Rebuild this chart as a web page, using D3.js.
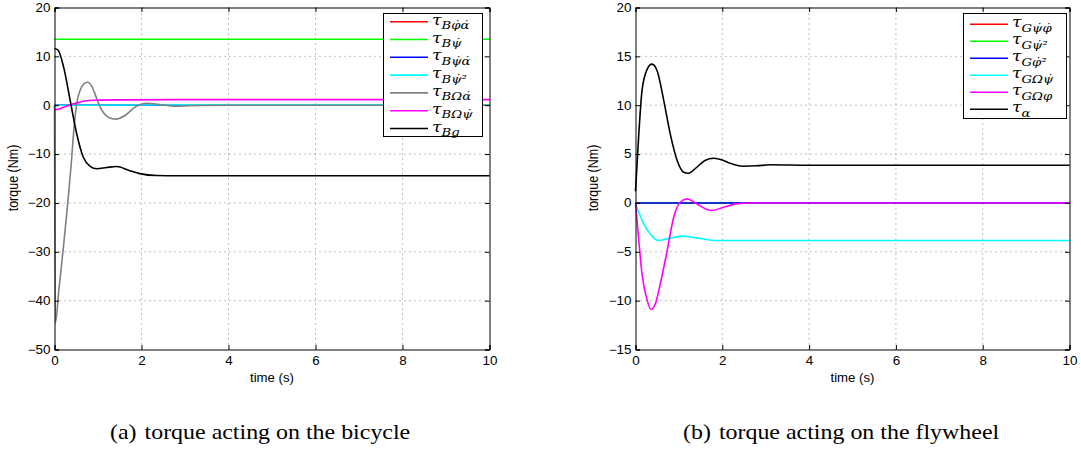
<!DOCTYPE html>
<html>
<head>
<meta charset="utf-8">
<script src="https://cdn.jsdelivr.net/npm/d3@7"></script>
<style>
  body { margin: 0; background: #fff; }
  svg { display: block; }
</style>
</head>
<body>
<svg id="fig" width="1081" height="450"></svg>
<script>
// ---------- shared tick values ----------
const timeTicks = [0, 2, 4, 6, 8, 10];
const bicycleTorqueTicks = [20, 10, 0, -10, -20, -30, -40, -50];
const flywheelTorqueTicks = [20, 15, 10, 5, 0, -5, -10, -15];

// ---------- (a) torque acting on the bicycle ----------
const bicycleLabels = ["B\u03C6\u0307\u03B1\u0307", "B\u03C8\u0307", "B\u03C8\u0307\u03B1\u0307", "B\u03C8\u0307\u00B2",
                       "B\u03A9\u03B1\u0307", "B\u03A9\u03C8\u0307", "Bg"];
const bicycleColors = ["#ff0000", "#00ff00", "#0000ff", "#00ffff", "#808080", "#ff00ff", "#000000"];

const bPhiAlphaT = [0, 10];
const bPhiAlphaV = [0, 0];
const bPsiT = [0, 10];
const bPsiV = [13.5, 13.5];
const bPsiAlphaT = [0, 10];
const bPsiAlphaV = [0, 0];
const bPsiSqT = [0, 2, 10];
const bPsiSqV = [0, 0.05, 0.1];
const bOmegaAlphaT = [0, 0.02, 0.1, 0.2, 0.3, 0.38, 0.46, 0.52, 0.6, 0.68, 0.76, 0.86, 0.96, 1.05, 1.24, 1.41, 1.62, 1.85, 2.12, 2.42, 2.8, 3.3, 4, 10];
const bOmegaAlphaV = [0, -44.6, -37.8, -29.5, -20.5, -12.5, -3.5, 0.8, 3.3, 4.4, 4.7, 3.8, 1.6, -0.4, -2.45, -2.85, -2.1, -0.4, 0.4, 0.15, -0.2, -0.05, 0, 0];
const bOmegaPsiT = [0, 0.08, 0.21, 0.44, 0.66, 0.9, 1.43, 2.84, 5, 10];
const bOmegaPsiV = [-0.87, -0.85, -0.4, 0.3, 0.82, 1.03, 1.1, 1.15, 1.15, 1.15];
const bGravityT = [0, 0.08, 0.21, 0.36, 0.51, 0.66, 0.82, 0.97, 1.2, 1.43, 1.73, 1.96, 2.35, 2.84, 4, 10];
const bGravityV = [11.6, 11.3, 7.8, 1.0, -5.85, -10.6, -12.5, -13.0, -12.75, -12.55, -13.4, -14.0, -14.4, -14.45, -14.45, -14.45];

// ---------- (b) torque acting on the flywheel ----------
const flywheelLabels = ["G\u03C8\u0307\u03C6\u0307", "G\u03C8\u0307\u00B2", "G\u03C6\u0307\u00B2", "G\u03A9\u03C8\u0307", "G\u03A9\u03C6", "\u03B1"];
const flywheelColors = ["#ff0000", "#00ff00", "#0000ff", "#00ffff", "#ff00ff", "#000000"];

const gPsiPhiT = [0, 10];
const gPsiPhiV = [0, 0];
const gPsiSqT = [0, 10];
const gPsiSqV = [0, 0];
const gPhiSqT = [0, 10];
const gPhiSqV = [0, 0];
const gOmegaPsiT = [0, 0.076, 0.19, 0.34, 0.53, 0.73, 1.07, 1.41, 1.87, 2.5, 4, 10];
const gOmegaPsiV = [0, -0.95, -2.14, -3.17, -3.85, -3.68, -3.4, -3.58, -3.85, -3.85, -3.85, -3.85];
const gOmegaPhiT = [0, 0.076, 0.15, 0.27, 0.36, 0.46, 0.57, 0.73, 0.88, 1.03, 1.19, 1.38, 1.61, 1.76, 2.03, 2.33, 2.6, 4, 10];
const gOmegaPhiV = [0, -3.85, -7.26, -10.0, -10.9, -10.3, -8.3, -4.87, -1.46, 0.07, 0.42, 0, -0.6, -0.78, -0.44, -0.1, 0, 0, 0];
const gAlphaT = [0, 0.076, 0.15, 0.27, 0.38, 0.5, 0.65, 0.8, 0.96, 1.11, 1.22, 1.41, 1.6, 1.8, 2.0, 2.18, 2.48, 2.79, 3.1, 4, 6, 10];
const gAlphaV = [1.2, 7.07, 11.5, 13.7, 14.2, 13.5, 10.5, 7.07, 4.34, 3.14, 3.04, 3.65, 4.35, 4.57, 4.4, 4.06, 3.76, 3.8, 3.9, 3.85, 3.85, 3.85];

// ---------- drawing ----------
const svg = d3.select("#fig");
const SANS = "Liberation Sans, Arimo, Arial, Helvetica, sans-serif";
const SERIF = "Times New Roman, Liberation Serif, Tinos, Times, serif";
const MATH = "DejaVu Serif, serif";
const TICK_STRETCH = 1.12;   // sans glyphs are set slightly wide

function drawPanel(cfg) {
  const g = svg.append("g");
  const x = d3.scaleLinear().domain([0, 10]).range([cfg.left, cfg.right]);
  const y = d3.scaleLinear().domain(cfg.yDomain).range([349.5, 7.5]);
  const [yb, yt] = y.range();

  // dotted grid
  const grid = g.append("g").attr("stroke", "#808080").attr("stroke-width", 1).attr("stroke-dasharray", "1,4");
  grid.selectAll(".gx").data(timeTicks.slice(1, -1)).join("line")
    .attr("x1", d => x(d)).attr("x2", d => x(d)).attr("y1", yb).attr("y2", yt);
  grid.selectAll(".gy").data(cfg.yTicks.slice(1, -1)).join("line")
    .attr("y1", d => y(d)).attr("y2", d => y(d)).attr("x1", cfg.left).attr("x2", cfg.right);

  // series
  const line = d3.line().x(d => x(d[0])).y(d => y(d[1])).curve(d3.curveMonotoneX);
  cfg.series.forEach((s, i) => {
    g.append("path").datum(d3.zip(s[0], s[1]))
      .attr("d", line).attr("fill", "none")
      .attr("stroke", cfg.colors[i]).attr("stroke-width", 1.6)
      .attr("stroke-linejoin", "round");
  });

  // axes with inward ticks on all four sides
  const tick = 4.5;
  const axB = g.append("g").attr("transform", `translate(0,${yb})`)
    .call(d3.axisBottom(x).tickValues(timeTicks).tickSize(-tick).tickPadding(7).tickFormat(d3.format("d")));
  const axT = g.append("g").attr("transform", `translate(0,${yt})`)
    .call(d3.axisTop(x).tickValues(timeTicks).tickSize(-tick).tickFormat(""));
  const axL = g.append("g").attr("transform", `translate(${cfg.left},0)`)
    .call(d3.axisLeft(y).tickValues(cfg.yTicks).tickSize(-tick).tickPadding(4).tickFormat(d3.format("d")));
  const axR = g.append("g").attr("transform", `translate(${cfg.right},0)`)
    .call(d3.axisRight(y).tickValues(cfg.yTicks).tickSize(-tick).tickFormat(""));
  [axB, axT, axL, axR].forEach(a => {
    a.select(".domain").attr("stroke", "#000").attr("stroke-width", 1);
    a.selectAll(".tick line").attr("stroke", "#000").attr("stroke-width", 1);
    a.selectAll("text").attr("font-family", SANS).attr("font-size", 12).attr("fill", "#000");
  });
  axB.selectAll("text").attr("transform", `scale(${TICK_STRETCH},1)`);
  axL.selectAll("text").each(function () {
    const t = d3.select(this);
    t.attr("x", +t.attr("x") / TICK_STRETCH).attr("transform", `scale(${TICK_STRETCH},1)`);
  });

  // axis titles
  g.append("text").attr("transform", `translate(${(cfg.left + cfg.right) / 2},382) scale(1.1,1)`)
    .attr("text-anchor", "middle").attr("font-family", SANS).attr("font-size", 12).text("time (s)");
  g.append("text").attr("transform", `translate(${cfg.ylabelX},178) rotate(-90) scale(1,1.1)`)
    .attr("text-anchor", "middle").attr("font-family", SANS).attr("font-size", 12.5).text("torque (Nm)");

  // legend
  const lg = g.append("g");
  lg.append("rect").attr("x", cfg.legend.x + 0.5).attr("y", 13.5)
    .attr("width", cfg.legend.w).attr("height", cfg.legend.h)
    .attr("fill", "#fff").attr("stroke", "#000").attr("stroke-width", 1);
  cfg.labels.forEach((lab, i) => {
    const ly = cfg.legend.y0 + i * cfg.legend.step;
    lg.append("line").attr("x1", cfg.legend.x + 7).attr("x2", cfg.legend.x + 45)
      .attr("y1", ly).attr("y2", ly).attr("stroke", cfg.colors[i]).attr("stroke-width", 1.6);
    const t = lg.append("text")
      .attr("transform", `translate(${cfg.legend.x + 49},${ly}) scale(1.15,1)`)
      .attr("font-family", MATH).attr("font-style", "italic");
    t.append("tspan").attr("font-size", 15).attr("y", 3).text("\u03C4");
    t.append("tspan").attr("font-size", 11.5).attr("y", 7.5).text(lab);
  });

  // caption
  const cap = g.append("text").attr("transform", `translate(${cfg.captionX},439) scale(1.14,1)`)
    .attr("font-family", SERIF).attr("font-size", 21).attr("fill", "#000");
  cap.append("tspan").text(cfg.tag);
  cap.append("tspan").attr("dx", 7).text(cfg.caption);
}

drawPanel({
  left: 54.5, right: 489.5, yDomain: [-50, 20], yTicks: bicycleTorqueTicks, ylabelX: 18,
  colors: bicycleColors, labels: bicycleLabels,
  series: [[bPhiAlphaT, bPhiAlphaV], [bPsiT, bPsiV], [bPsiAlphaT, bPsiAlphaV], [bPsiSqT, bPsiSqV],
           [bOmegaAlphaT, bOmegaAlphaV], [bOmegaPsiT, bOmegaPsiV], [bGravityT, bGravityV]],
  legend: { x: 383, w: 99, h: 123, y0: 21.7, step: 17.8 },
  captionX: 110, tag: "(a)", caption: "torque acting on the bicycle"
});

drawPanel({
  left: 635.5, right: 1069.5, yDomain: [-15, 20], yTicks: flywheelTorqueTicks, ylabelX: 598,
  colors: flywheelColors, labels: flywheelLabels,
  series: [[gPsiPhiT, gPsiPhiV], [gPsiSqT, gPsiSqV], [gPhiSqT, gPhiSqV], [gOmegaPsiT, gOmegaPsiV],
           [gOmegaPhiT, gOmegaPhiV], [gAlphaT, gAlphaV]],
  legend: { x: 963, w: 103, h: 105, y0: 24.3, step: 17 },
  captionX: 683, tag: "(b)", caption: "torque acting on the flywheel"
});
</script>
</body>
</html>
